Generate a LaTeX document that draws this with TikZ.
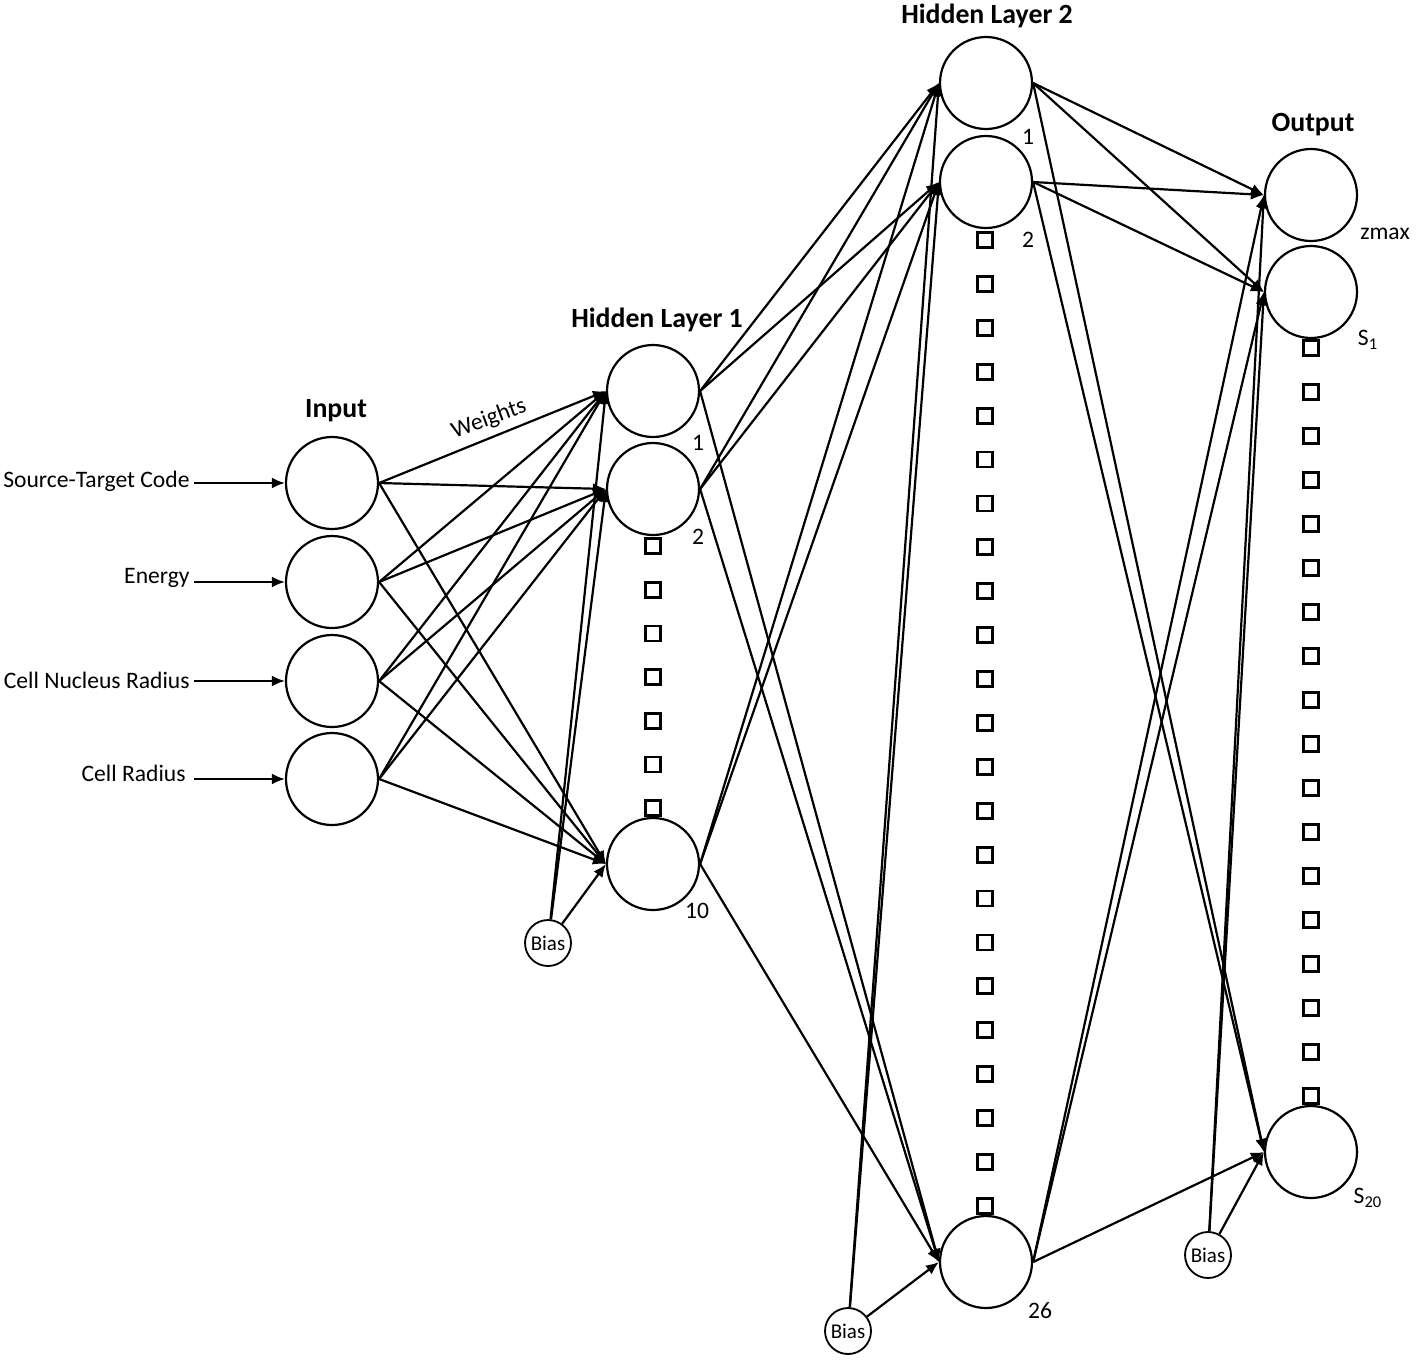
\documentclass[tikz,border=0pt]{standalone}
\usepackage{fontspec}
\setmainfont{Carlito}
\usetikzlibrary{arrows.meta}
\tikzset{
	neuron/.style={circle, draw, line width=1.1pt, minimum size=46pt, inner sep=0pt},
	biasnode/.style={circle, draw, line width=0.9pt, minimum size=23pt, inner sep=0pt, font=\fontsize{10.5}{11}\selectfont},
	dotbox/.style={rectangle, draw, fill=white, line width=1.4pt, minimum size=7.5pt, inner sep=0pt},
	lbl/.style={font=\fontsize{11.8}{13}\selectfont, inner sep=2pt},
	ttl/.style={font=\fontsize{13.9}{15}\selectfont\bfseries},
	wire/.style={-{Latex[length=6.5pt,width=5.5pt]}, line width=1.1pt}
}
\begin{document}
\begin{tikzpicture}[x=0.5pt, y=-0.5pt]
		\useasboundingbox (0,0) rectangle (1417,1361);
		% layer titles
		\node[ttl] (tin) at (336,411) {Input};
		\node[ttl] (th1) at (657,320) {Hidden Layer 1};
		\node[ttl] (th2) at (987,16) {Hidden Layer 2};
		\node[ttl] (tout) at (1313,125) {Output};
		% input layer
		\node[neuron] (in1) at (332,483) {};
		\node[neuron] (in2) at (332,582) {};
		\node[neuron] (in3) at (332,681) {};
		\node[neuron] (in4) at (332,779) {};
		\node[lbl, anchor=east] (lsrc) at (194,481) {Source-Target Code};
		\node[lbl, anchor=east] (leng) at (194,578) {Energy};
		\node[lbl, anchor=east] (lnuc) at (194,680) {Cell Nucleus Radius};
		\node[lbl, anchor=east] (lcell) at (190,773) {Cell Radius};
		\draw[wire] (lsrc.east |- in1.west) -- (in1.west);
		\draw[wire] (leng.east |- in2.west) -- (in2.west);
		\draw[wire] (lnuc.east |- in3.west) -- (in3.west);
		\draw[wire] (lnuc.east |- in4.west) -- (in4.west);
		% hidden layer 1
		\node[neuron] (h1n1) at (653,391) {};
		\node[neuron] (h1n2) at (653,489) {};
		\node[neuron] (h1n10) at (653,864) {};
		\node[lbl] at (698,443) {1};
		\node[lbl] at (698,537) {2};
		\node[lbl] at (697,911) {10};
		\node[biasnode] (bias1) at (548,943) {Bias};
		% hidden layer 2
		\node[neuron] (h2n1) at (986,83) {};
		\node[neuron] (h2n2) at (986,182) {};
		\node[neuron] (h2n26) at (986,1262) {};
		\node[lbl] at (1028,137) {1};
		\node[lbl] at (1028,240) {2};
		\node[lbl] at (1040,1311) {26};
		\node[biasnode] (bias2) at (848,1331) {Bias};
		% output layer
		\node[neuron] (oz) at (1311,195) {};
		\node[neuron] (os1) at (1311,292) {};
		\node[neuron] (os20) at (1311,1152) {};
		\node[lbl] at (1385,234) {zmax};
		\node[lbl] at (1368,340) {S\textsubscript{1}};
		\node[lbl] at (1368,1198) {S\textsubscript{20}};
		\node[biasnode] (bias3) at (1208,1255) {Bias};
		% weights
		\foreach \s in {in1,in2,in3,in4}
			\foreach \t in {h1n1,h1n2,h1n10}
				\draw[wire] (\s.east) -- (\t.west);
		\node[lbl, rotate=20, inner sep=1pt] (wts) at (489,419) {Weights};
		\foreach \t in {h1n1,h1n2,h1n10}
			\draw[wire] (bias1) -- (\t.west);
		\foreach \s in {h1n1,h1n2,h1n10}
			\foreach \t in {h2n1,h2n2,h2n26}
				\draw[wire] (\s.east) -- (\t.west);
		\foreach \t in {h2n1,h2n2,h2n26}
			\draw[wire] (bias2) -- (\t.west);
		\foreach \s in {h2n1,h2n2,h2n26}
			\foreach \t in {oz,os1,os20}
				\draw[wire] (\s.east) -- (\t.west);
		\foreach \t in {oz,os1,os20}
			\draw[wire] (bias3) -- (\t.west);
		% hidden units left out
		\foreach \k in {0,...,6}
			\node[dotbox] at (653,546+43.7*\k) {};
		\foreach \k in {0,...,22}
			\node[dotbox] at (985,240+43.9*\k) {};
		\foreach \k in {0,...,17}
			\node[dotbox] at (1311,348+44*\k) {};
	\end{tikzpicture}
\end{document}
